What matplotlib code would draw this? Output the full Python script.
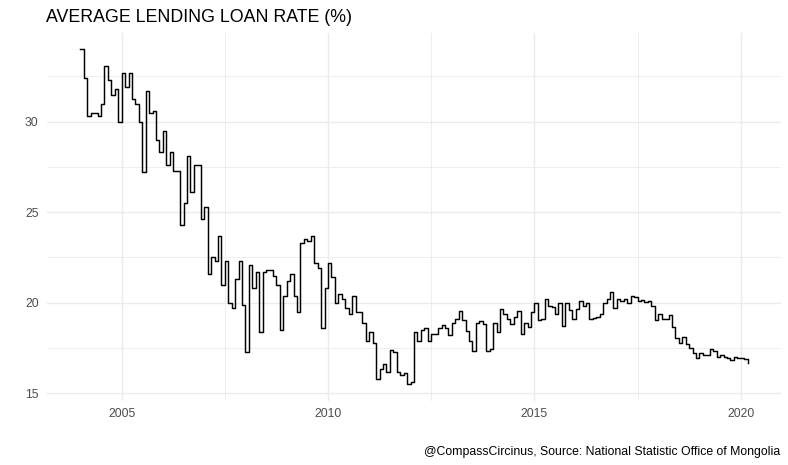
import numpy as np
import matplotlib
matplotlib.use("Agg")
import matplotlib.pyplot as plt
from matplotlib.ticker import FixedLocator

plt.rcParams['font.family'] = ['Liberation Sans', 'DejaVu Sans']

# Monthly average lending loan rate (%), starting January 2004
start_year = 2004
rates = [
    34.0, 32.4, 30.3, 30.5, 30.5, 30.3, 31.0, 33.1, 32.3, 31.5, 31.8, 30.0,   # 2004
    32.7, 31.9, 32.7, 31.25, 31.0, 30.0, 27.2, 31.7, 30.5, 30.6, 29.0, 28.3,  # 2005
    29.5, 27.6, 28.3, 27.3, 27.3, 24.3, 25.5, 28.1, 26.1, 27.6, 27.6, 24.6,   # 2006
    25.3, 21.6, 22.5, 22.3, 23.7, 21.0, 22.3, 20.0, 19.7, 21.3, 22.3, 19.9,   # 2007
    17.3, 22.1, 20.8, 21.7, 18.4, 21.7, 21.8, 21.8, 21.5, 21.0, 18.5, 20.4,   # 2008
    21.2, 21.6, 20.4, 19.5, 23.3, 23.5, 23.4, 23.7, 22.2, 21.9, 18.6, 20.8,   # 2009
    22.2, 21.4, 20.0, 20.5, 20.2, 19.7, 19.4, 20.4, 19.5, 19.5, 18.9, 17.9,   # 2010
    18.4, 17.8, 15.8, 16.35, 16.6, 16.2, 17.4, 17.3, 16.2, 16.0, 16.1, 15.5,  # 2011
    15.6, 18.4, 17.9, 18.5, 18.6, 17.9, 18.3, 18.3, 18.6, 18.75, 18.6, 18.2,  # 2012
    18.9, 19.1, 19.55, 19.05, 18.45, 17.9, 17.35, 18.9, 19.0, 18.85, 17.35, 17.45,  # 2013
    18.9, 18.4, 19.65, 19.4, 19.1, 18.8, 19.2, 19.55, 18.3, 18.9, 18.65, 19.5,  # 2014
    20.0, 19.05, 19.1, 20.2, 19.8, 19.75, 19.4, 20.0, 18.7, 20.0, 19.6, 19.1,  # 2015
    19.65, 20.1, 19.8, 20.0, 19.1, 19.15, 19.2, 19.4, 20.0, 20.2, 20.6, 19.7,  # 2016
    20.2, 20.1, 20.2, 20.0, 20.35, 20.3, 20.1, 20.15, 20.05, 20.1, 19.8, 19.05,  # 2017
    19.4, 19.1, 19.1, 19.3, 18.65, 18.05, 17.8, 18.1, 17.7, 17.5, 17.2, 16.95,  # 2018
    17.2, 17.1, 17.1, 17.45, 17.35, 17.0, 17.1, 17.0, 16.95, 16.85, 17.0, 16.95,  # 2019
    16.95, 16.9, 16.7,                                                          # 2020
]

x_ticks = [2005, 2010, 2015, 2020]
x_tick_labels = ['2005', '2010', '2015', '2020']
y_ticks = [15, 20, 25, 30]
y_tick_labels = ['15', '20', '25', '30']

title = 'AVERAGE LENDING LOAN RATE (%)'
caption = '@CompassCircinus, Source: National Statistic Office of Mongolia'

x = start_year + np.arange(len(rates)) / 12.0
y = np.array(rates)

fig = plt.figure(figsize=(7.88, 4.65), dpi=100)
ax = fig.add_axes([47 / 788, 1 - 401 / 465, (781 - 47) / 788, (401 - 32.5) / 465])

grid_col = '#EBEBEB'
ax.set_axisbelow(True)
ax.step(x, y, where='post', color='black', linewidth=1.05, zorder=3)

xr = x.max() - x.min()
yr = y.max() - y.min()
ax.set_xlim(x.min() - 0.05 * xr, x.max() + 0.05 * xr)
ax.set_ylim(y.min() - 0.05 * yr, y.max() + 0.05 * yr)

ax.xaxis.set_major_locator(FixedLocator(x_ticks))
ax.set_xticklabels(x_tick_labels)
ax.yaxis.set_major_locator(FixedLocator(y_ticks))
ax.set_yticklabels(y_tick_labels)
ax.xaxis.set_minor_locator(FixedLocator([2002.5, 2007.5, 2012.5, 2017.5]))
ax.yaxis.set_minor_locator(FixedLocator([17.5, 22.5, 27.5, 32.5]))

ax.grid(which='major', color=grid_col, linewidth=1.0)
ax.grid(which='minor', color=grid_col, linewidth=0.6)
for s in ax.spines.values():
    s.set_visible(False)
ax.tick_params(which='both', length=0)
ax.tick_params(axis='both', labelsize=8.8, labelcolor='#4D4D4D')
ax.tick_params(axis='x', pad=5)
ax.tick_params(axis='y', pad=6)

fig.text(46 / 788, 1 - 17 / 465, title, fontsize=12.8, color='black',
         ha='left', va='center')
fig.text(780 / 788, 1 - 452 / 465, caption, fontsize=8.8, color='black',
         ha='right', va='center')

fig.savefig('out.png', dpi=100)
